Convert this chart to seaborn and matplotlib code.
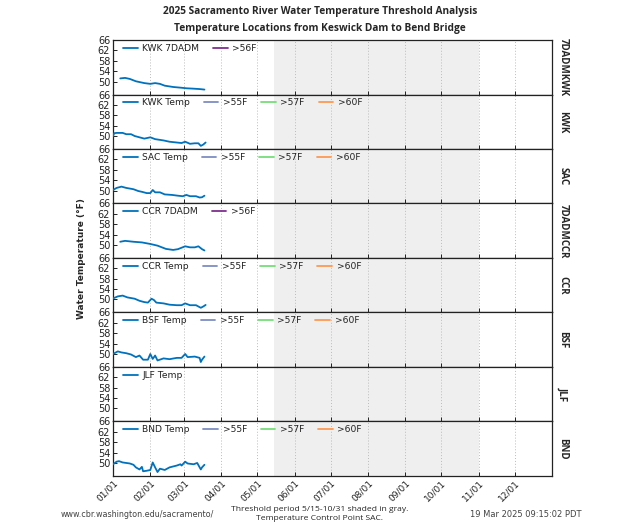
import matplotlib
matplotlib.use("Agg")
import matplotlib.pyplot as plt
import matplotlib.dates as mdates
from matplotlib.lines import Line2D
import seaborn as sns
import pandas as pd

# ---------------- data (day offset from 2025-01-01, °F) ----------------
kwk7_days = [6, 10, 14, 19, 26, 31, 35, 39, 43, 50, 57, 61, 67, 72, 76]
kwk7_vals = [51.2, 51.4, 51.0, 50.1, 49.4, 49.1, 49.4, 49.1, 48.4, 47.9, 47.6, 47.4, 47.25, 47.1, 46.9]

kwk_days = [0, 1, 3, 8, 11, 15, 18, 22, 26, 31, 35, 42, 47, 53, 57, 60, 64, 68, 71, 73, 75, 77]
kwk_vals = [50.0, 51.1, 51.2, 51.2, 50.7, 50.7, 50.0, 49.5, 49.0, 49.5, 48.8, 48.3, 47.8, 47.5, 47.3, 47.8, 47.0, 47.2, 47.2, 46.2, 46.7, 47.5]

sac_days = [0, 3, 7, 11, 17, 21, 24, 28, 31, 33, 35, 39, 43, 49, 54, 58, 61, 64, 69, 72, 74, 76]
sac_vals = [50.2, 51.0, 51.5, 51.0, 50.5, 49.8, 49.5, 49.0, 49.0, 50.2, 49.3, 49.3, 48.5, 48.3, 48.0, 47.8, 48.3, 47.8, 47.8, 47.3, 47.4, 48.0]

ccr7_days = [6, 10, 17, 24, 31, 37, 44, 50, 54, 60, 64, 68, 71, 74, 76]
ccr7_vals = [51.25, 51.6, 51.25, 51.0, 50.4, 49.75, 48.5, 48.1, 48.4, 49.5, 49.1, 49.1, 49.5, 48.4, 47.9]

ccr_days = [0, 4, 8, 12, 18, 22, 26, 29, 32, 34, 36, 42, 47, 53, 57, 60, 64, 69, 73, 75, 77]
ccr_vals = [50.4, 51.2, 51.5, 50.8, 50.3, 49.5, 49.0, 48.8, 50.3, 49.8, 48.8, 48.5, 48.0, 47.8, 47.8, 48.5, 47.8, 47.8, 46.8, 47.3, 47.9]

bsf_days = [0, 4, 7, 11, 15, 19, 22, 25, 29, 31, 33, 35, 37, 42, 47, 53, 57, 60, 62, 68, 72, 73, 74, 76]
bsf_vals = [50.0, 51.0, 50.6, 50.3, 49.8, 48.8, 49.4, 47.8, 47.8, 50.0, 48.1, 49.4, 47.5, 48.3, 48.0, 48.5, 48.5, 50.0, 48.8, 49.0, 48.5, 46.9, 47.8, 49.0]

jlf_days = []
jlf_vals = []

bnd_days = [0, 3, 5, 8, 11, 14, 17, 19, 22, 24, 25, 28, 31, 33, 35, 37, 39, 43, 47, 53, 56, 57, 60, 62, 67, 70, 73, 74, 76]
bnd_vals = [49.5, 50.5, 50.7, 50.2, 50.0, 49.8, 49.3, 48.3, 47.5, 48.5, 46.8, 47.0, 47.3, 50.2, 48.3, 46.5, 47.8, 47.3, 48.3, 49.0, 49.5, 49.0, 50.5, 49.8, 49.5, 50.0, 47.5, 48.3, 49.3]

panel_ids = ["7DADMKWK", "KWK", "SAC", "7DADMCCR", "CCR", "BSF", "JLF", "BND"]
series_labels = ["KWK 7DADM", "KWK Temp", "SAC Temp", "CCR 7DADM", "CCR Temp", "BSF Temp", "JLF Temp", "BND Temp"]
series_days = [kwk7_days, kwk_days, sac_days, ccr7_days, ccr_days, bsf_days, jlf_days, bnd_days]
series_vals = [kwk7_vals, kwk_vals, sac_vals, ccr7_vals, ccr_vals, bsf_vals, jlf_vals, bnd_vals]
threshold_sets = [[">56F"], [">55F", ">57F", ">60F"], [">55F", ">57F", ">60F"], [">56F"],
                  [">55F", ">57F", ">60F"], [">55F", ">57F", ">60F"], [], [">55F", ">57F", ">60F"]]

y_ticks = [50, 54, 58, 62, 66]
year_start = "2025-01-01"
year_end = "2026-01-01"
shade_start = "2025-05-15"
shade_end = "2025-11-01"

# ---------------- style ----------------
sns.set_theme(style="white")
plt.rcParams["font.family"] = ["DejaVu Sans"]

line_color = "#0072BD"
thr_colors = {">55F": "#7D8CC4", ">56F": "#7E2F8E", ">57F": "#77DD77", ">60F": "#FF9955"}

fig = plt.figure(figsize=(6.4, 5.3), dpi=100)
axes = fig.subplots(8, 1, sharex=True, gridspec_kw=dict(hspace=0))
fig.subplots_adjust(left=0.1766, right=0.8625, top=0.9245, bottom=0.102)

base = pd.Timestamp(year_start)
month_ticks = pd.date_range(year_start, periods=12, freq="MS")
for ax, pid, lab, d, v, thr in zip(axes, panel_ids, series_labels, series_days, series_vals, threshold_sets):
    ax.axvspan(pd.Timestamp(shade_start), pd.Timestamp(shade_end), color="#EFEFEF", lw=0, zorder=0)
    if len(d):
        df = pd.DataFrame({"date": base + pd.to_timedelta(d, unit="D"), "temp": v})
        sns.lineplot(data=df, x="date", y="temp", ax=ax, color=line_color, lw=1.3, zorder=3)
    ax.set_xlim(pd.Timestamp(year_start), pd.Timestamp(year_end))
    ax.set_ylim(45, 66)
    ax.set_yticks(y_ticks)
    ax.set_xlabel("")
    ax.set_ylabel("")
    ax.set_xticks(month_ticks)
    ax.xaxis.set_major_formatter(mdates.DateFormatter("%m/%d"))
    ax.grid(axis="x", linestyle=(0, (1, 2)), color="#BBBBBB", lw=0.7)
    ax.grid(axis="y", visible=False)
    ax.tick_params(axis="both", direction="in", length=3, width=0.7, labelsize=7, colors="#222222",
                   left=True, bottom=True, pad=2)
    for s in ax.spines.values():
        s.set_color("#222222")
        s.set_linewidth(0.9)
    handles = [Line2D([], [], color=line_color, lw=1.3)]
    labels = [lab]
    for t in thr:
        handles.append(Line2D([], [], color=thr_colors[t], lw=1.3))
        labels.append(t)
    ax.legend(handles, labels, loc="upper left", ncol=4, frameon=False, fontsize=6.6,
              handlelength=1.6, handletextpad=0.5, columnspacing=1.5,
              bbox_to_anchor=(0.01, 1.03), borderaxespad=0.2, labelcolor="#222222")
    ax.text(1.012, 0.5, pid, transform=ax.transAxes, rotation=-90, va="center", ha="left",
            fontsize=7, fontweight="bold", family=["Open Sans", "DejaVu Sans"])

for ax in axes[:-1]:
    ax.tick_params(axis="x", labelbottom=False)
for lbl in axes[-1].get_xticklabels():
    lbl.set_rotation(45)
    lbl.set_ha("right")
    lbl.set_rotation_mode("anchor")
    lbl.set_fontsize(6.5)

fig.text(0.5, 0.978, "2025 Sacramento River Water Temperature Threshold Analysis",
         ha="center", va="center", fontsize=7.3, fontweight="bold", family=["Open Sans", "DejaVu Sans"])
fig.text(0.5, 0.946, "Temperature Locations from Keswick Dam to Bend Bridge",
         ha="center", va="center", fontsize=7.3, fontweight="bold", family=["Open Sans", "DejaVu Sans"])
fig.text(0.128, 0.513, "Water Temperature (°F)", rotation=90, ha="center", va="center",
         fontsize=6.5, fontweight="bold")

fig.text(0.094, 0.030, "www.cbr.washington.edu/sacramento/", ha="left", va="center",
         fontsize=5.8, color="#444444")
fig.text(0.5, 0.030, "Threshold period 5/15-10/31 shaded in gray.\nTemperature Control Point SAC.",
         ha="center", va="center", fontsize=6.1, linespacing=1.25, family=["Open Sans", "DejaVu Sans"])
fig.text(0.735, 0.030, "19 Mar 2025 09:15:02 PDT", ha="left", va="center",
         fontsize=6, color="#444444")

fig.savefig("out.png", dpi=100)
